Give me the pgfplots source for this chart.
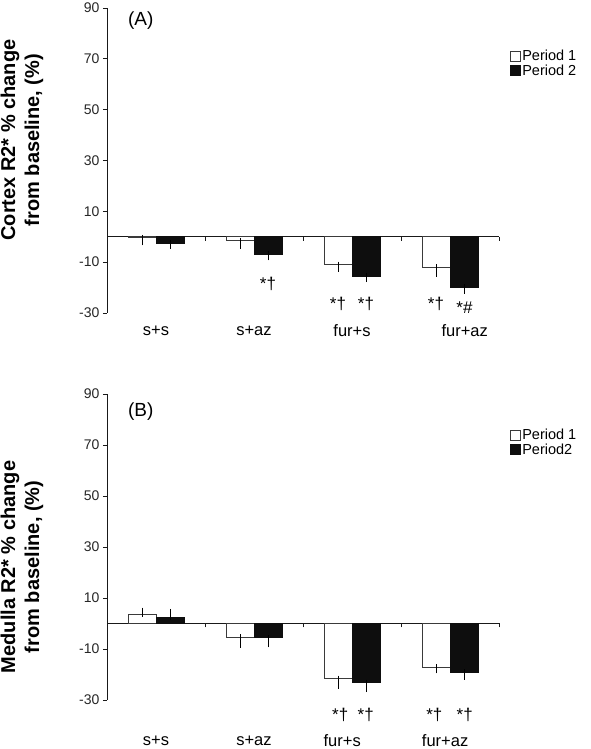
\documentclass[border=0pt]{standalone}
\usepackage{fontspec}
\setmainfont{Liberation Sans}
\usepackage{pgfplots}
\pgfplotsset{compat=1.18}
\usepackage{pgfplotstable}

\pgfplotstableread{
x y1 ep1 em1 y2 ep2 em2
0 -0.4 0 1.8 -2.5 0 1.0
1 -1.6 0 2.0 -6.8 0 1.3
2 -11.0 0 1.5 -15.5 0 1.2
3 -12.0 0 2.6 -19.8 0 1.5
}\cortexdata

\pgfplotstableread{
x y1 ep1 em1 y2 ep2 em2
0 3.6 1.4 0 2.4 2.2 0
1 -5.3 0 3.1 -5.6 0 2.6
2 -21.6 0 2.9 -23.2 0 2.5
3 -17.1 0 1.3 -19.1 0 1.7
}\medulladata

\definecolor{edgegray}{HTML}{3A3A3A}
\definecolor{barblack}{HTML}{0E0E0E}

\pgfplotsset{
  sqlegend/.style={legend image code/.code={\draw[##1] (0pt,-5pt) rectangle (10pt,5pt);}},
  panel/.style={
    scale only axis, width=392pt, anchor=south west,
    xmin=-0.5, xmax=3.5, ymin=-30, ymax=90,
    axis x line=middle, axis y line=left,
    axis line style={-, line width=0.9pt, color=black!90},
    xtick={0.5,1.5,2.5,3.5}, xticklabels={},
    ytick={-30,-10,10,30,50,70,90},
    yticklabels={-30,-10,10,30,50,70,90},
    tick align=outside, major tick length=4pt,
    tick style={line width=0.8pt, black!90},
    ticklabel style={font=\fontsize{14}{14}\selectfont, text=black!85},
    ybar=0pt, bar width=28pt,
    clip=false,
    ylabel style={font=\bfseries\fontsize{20}{24}\selectfont, align=center, anchor=center},
    legend style={draw=none, fill=none, anchor=west,
      inner sep=0pt, row sep=0pt, font=\fontsize{14.5}{15}\selectfont,
      nodes={inner sep=1.2pt},
      /tikz/every even column/.append style={column sep=3pt}},
    legend cell align=left,
  },
  p1/.style={fill=white, draw=edgegray, line width=0.9pt, sqlegend,
    error bars/.cd, y dir=both, y explicit,
    error bar style={line width=0.9pt, black},
    error mark options={mark size=3pt, line width=0.9pt, black}},
  p2/.style={fill=barblack, draw=barblack, line width=0.9pt, sqlegend,
    error bars/.cd, y dir=both, y explicit,
    error bar style={line width=0.9pt, black},
    error mark options={mark size=3pt, line width=0.9pt, black}},
}

\begin{document}
\begin{tikzpicture}
\useasboundingbox (0,0) rectangle (591pt,749pt);

% ---------- Panel A ----------
\begin{axis}[panel, at={(107pt,436pt)}, height=305pt,
  ylabel={Cortex R2* \% change\\from baseline, (\%)},
  ylabel style={at={(axis description cs:-0.217,0.567)}},
  legend style={at={(axis description cs:1.028,0.818)}},
]
\addplot[p1] table[x=x, y=y1, y error plus=ep1, y error minus=em1] {\cortexdata};
\addlegendentry{Period 1}
\addplot[p2] table[x=x, y=y2, y error plus=ep2, y error minus=em2] {\cortexdata};
\addlegendentry{Period 2}
\node[font=\fontsize{19}{19}\selectfont] at (axis description cs:0.086,0.96) {(A)};
\begin{scope}[every node/.style={font=\fontsize{17}{17}\selectfont}]
\node at (axis cs:1.143,-18.7) {*†};
\node at (axis cs:1.857,-26.5) {*†};
\node at (axis cs:2.143,-26.5) {*†};
\node at (axis cs:2.857,-26.5) {*†};
\node at (axis cs:3.148,-27.9) {*\#};
\end{scope}
\begin{scope}[every node/.style={font=\fontsize{16.5}{17}\selectfont}]
\node at (axis cs:0,-37.1) {s+s};
\node at (axis cs:1,-37.1) {s+az};
\node at (axis cs:2,-37.1) {fur+s};
\node at (axis cs:3.15,-37.1) {fur+az};
\end{scope}
\end{axis}

% ---------- Panel B ----------
\begin{axis}[panel, at={(107pt,49pt)}, height=306pt,
  ylabel={Medulla R2* \% change\\from baseline, (\%)},
  ylabel style={at={(axis description cs:-0.217,0.435)}},
  legend style={at={(axis description cs:1.028,0.841)}},
]
\addplot[p1] table[x=x, y=y1, y error plus=ep1, y error minus=em1] {\medulladata};
\addlegendentry{Period 1}
\addplot[p2] table[x=x, y=y2, y error plus=ep2, y error minus=em2] {\medulladata};
\addlegendentry{Period2}
\node[font=\fontsize{19}{19}\selectfont] at (axis description cs:0.086,0.944) {(B)};
\begin{scope}[every node/.style={font=\fontsize{17}{17}\selectfont}]
\node at (axis cs:1.88,-35.7) {*†};
\node at (axis cs:2.14,-35.7) {*†};
\node at (axis cs:2.84,-35.7) {*†};
\node at (axis cs:3.15,-35.7) {*†};
\end{scope}
\begin{scope}[every node/.style={font=\fontsize{16.5}{17}\selectfont, inner sep=1pt}]
\node at (axis cs:0,-46.1) {s+s};
\node at (axis cs:1,-46.1) {s+az};
\node at (axis cs:1.9,-46.1) {fur+s};
\node at (axis cs:2.95,-46.1) {fur+az};
\end{scope}
\end{axis}
\end{tikzpicture}
\end{document}
